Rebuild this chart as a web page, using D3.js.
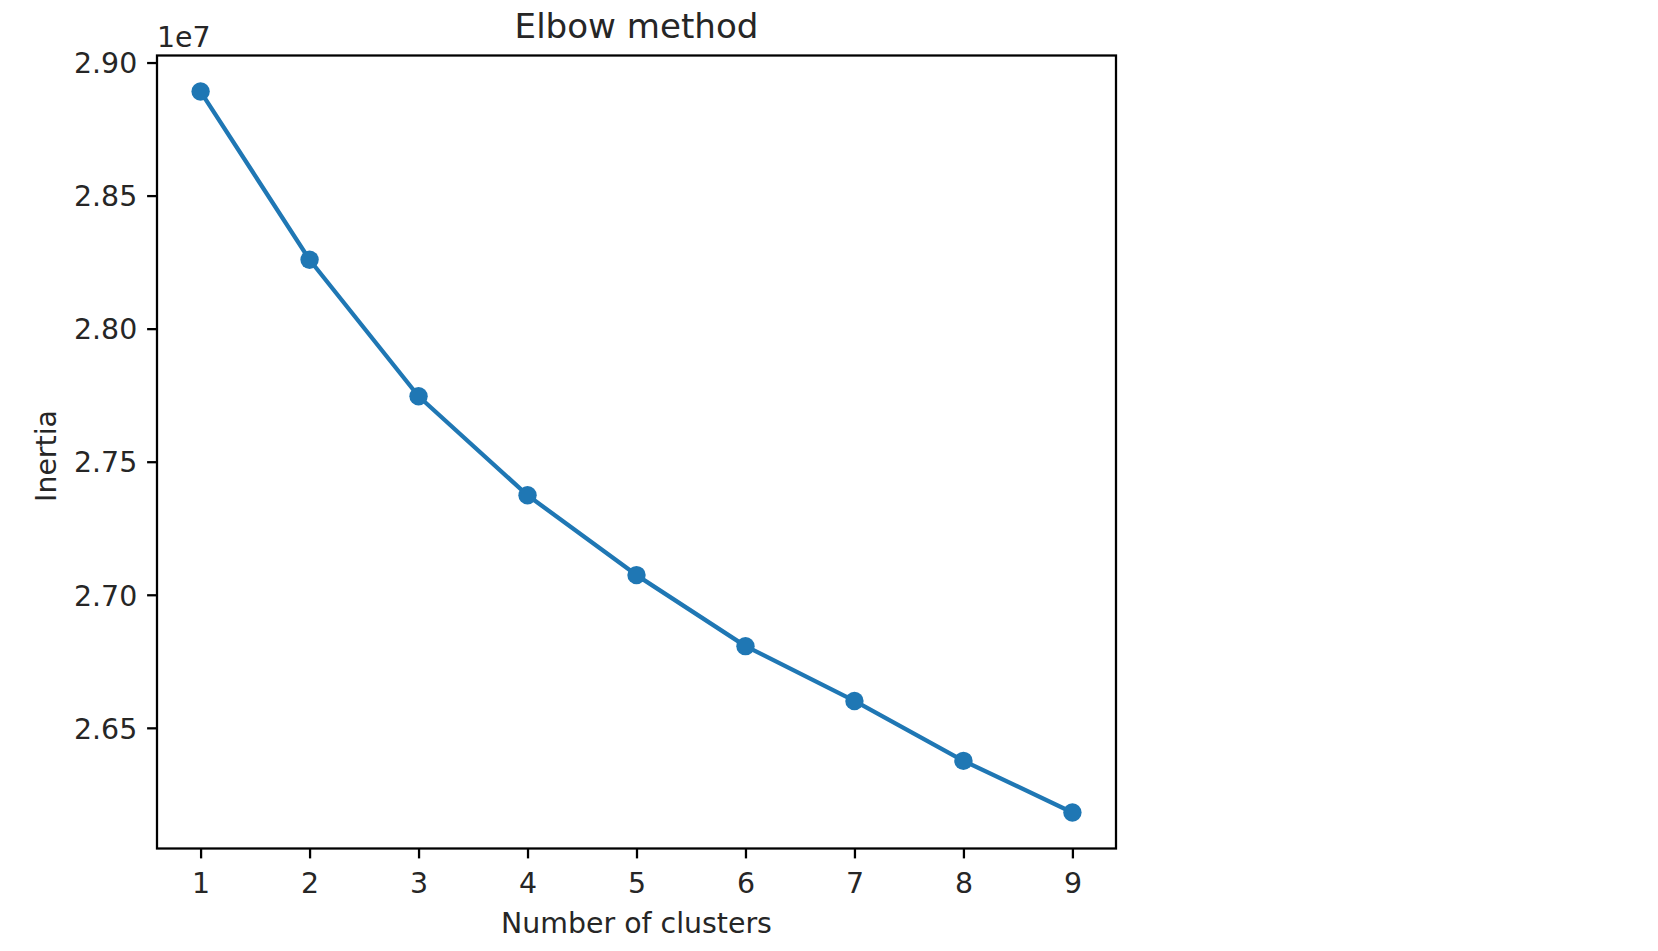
<!DOCTYPE html>
<html>
<head>
<meta charset="utf-8">
<script src="https://cdn.jsdelivr.net/npm/d3@7"></script>
<style>
  html, body { margin: 0; padding: 0; background: #fff; }
  svg { display: block; }
  text { font-family: "DejaVu Sans", sans-serif; fill: #262626; }
</style>
</head>
<body>
<svg id="chart" width="1658" height="951"></svg>
<script>
// Data
const clusters = [1, 2, 3, 4, 5, 6, 7, 8, 9];
const inertia = [28891000, 28259000, 27746000, 27374000, 27074000, 26807000, 26601000, 26376000, 26182000];
const xTicks = [1, 2, 3, 4, 5, 6, 7, 8, 9];
const yTicks = [26500000, 27000000, 27500000, 28000000, 28500000, 29000000];
const titleText = "Elbow method";
const xLabel = "Number of clusters";
const yLabel = "Inertia";
const offsetText = "1e7";

const svg = d3.select("#chart");
const box = { left: 157, right: 1116, top: 55.5, bottom: 848.5 };
const color = "#1f77b4";
const fs = 28.4;
const titleFs = 34.1;

// matplotlib-like 5% margins
const xMin = d3.min(clusters), xMax = d3.max(clusters);
const xm = (xMax - xMin) * 0.05;
const yMin = d3.min(inertia), yMax = d3.max(inertia);
const ym = (yMax - yMin) * 0.05;

const x = d3.scaleLinear().domain([xMin - xm, xMax + xm]).range([box.left, box.right]);
const y = d3.scaleLinear().domain([yMin - ym, yMax + ym]).range([box.bottom, box.top]);

// Axes
const tickLen = 9.9, pad = 9.9;
const xAxis = svg.append("g")
  .attr("transform", `translate(0,${box.bottom})`)
  .call(d3.axisBottom(x).tickValues(xTicks).tickFormat(d3.format("d")).tickSize(tickLen).tickPadding(pad).tickSizeOuter(0));
xAxis.select(".domain").remove();
xAxis.selectAll(".tick line").attr("stroke", "#000").attr("stroke-width", 2.27);
xAxis.selectAll(".tick text").attr("font-size", fs).attr("font-family", "DejaVu Sans").attr("fill", "#262626")
  .attr("dy", null).attr("y", 893.3 - box.bottom);

const yAxis = svg.append("g")
  .attr("transform", `translate(${box.left},0)`)
  .call(d3.axisLeft(y).tickValues(yTicks).tickFormat(d => (d / 1e7).toFixed(2)).tickSize(tickLen).tickPadding(pad).tickSizeOuter(0));
yAxis.select(".domain").remove();
yAxis.selectAll(".tick line").attr("stroke", "#000").attr("stroke-width", 2.27);
yAxis.selectAll(".tick text").attr("font-size", fs).attr("font-family", "DejaVu Sans").attr("fill", "#262626")
  .attr("dy", "0.36em");

// Line and markers
const line = d3.line().x((d, i) => x(clusters[i])).y(d => y(d));
svg.append("path")
  .datum(inertia)
  .attr("fill", "none")
  .attr("stroke", color)
  .attr("stroke-width", 4.3)
  .attr("stroke-linejoin", "round")
  .attr("stroke-linecap", "butt")
  .attr("d", line);

svg.append("g").selectAll("circle")
  .data(inertia)
  .join("circle")
  .attr("cx", (d, i) => x(clusters[i]))
  .attr("cy", d => y(d))
  .attr("r", 9.2)
  .attr("fill", color);

// Frame
svg.append("rect")
  .attr("x", box.left).attr("y", box.top)
  .attr("width", box.right - box.left).attr("height", box.bottom - box.top)
  .attr("fill", "none").attr("stroke", "#000").attr("stroke-width", 2.27);

// Title
svg.append("text")
  .attr("x", (box.left + box.right) / 2).attr("y", 37.7)
  .attr("text-anchor", "middle").attr("font-size", titleFs)
  .text(titleText);

// Offset text
svg.append("text")
  .attr("x", box.left).attr("y", 46.7)
  .attr("font-size", fs)
  .text(offsetText);

// Axis labels
svg.append("text")
  .attr("x", (box.left + box.right) / 2).attr("y", 933.3)
  .attr("text-anchor", "middle").attr("font-size", fs)
  .text(xLabel);

svg.append("text")
  .attr("transform", `translate(55.5,456) rotate(-90)`)
  .attr("text-anchor", "middle").attr("font-size", fs)
  .text(yLabel);
</script>
</body>
</html>
